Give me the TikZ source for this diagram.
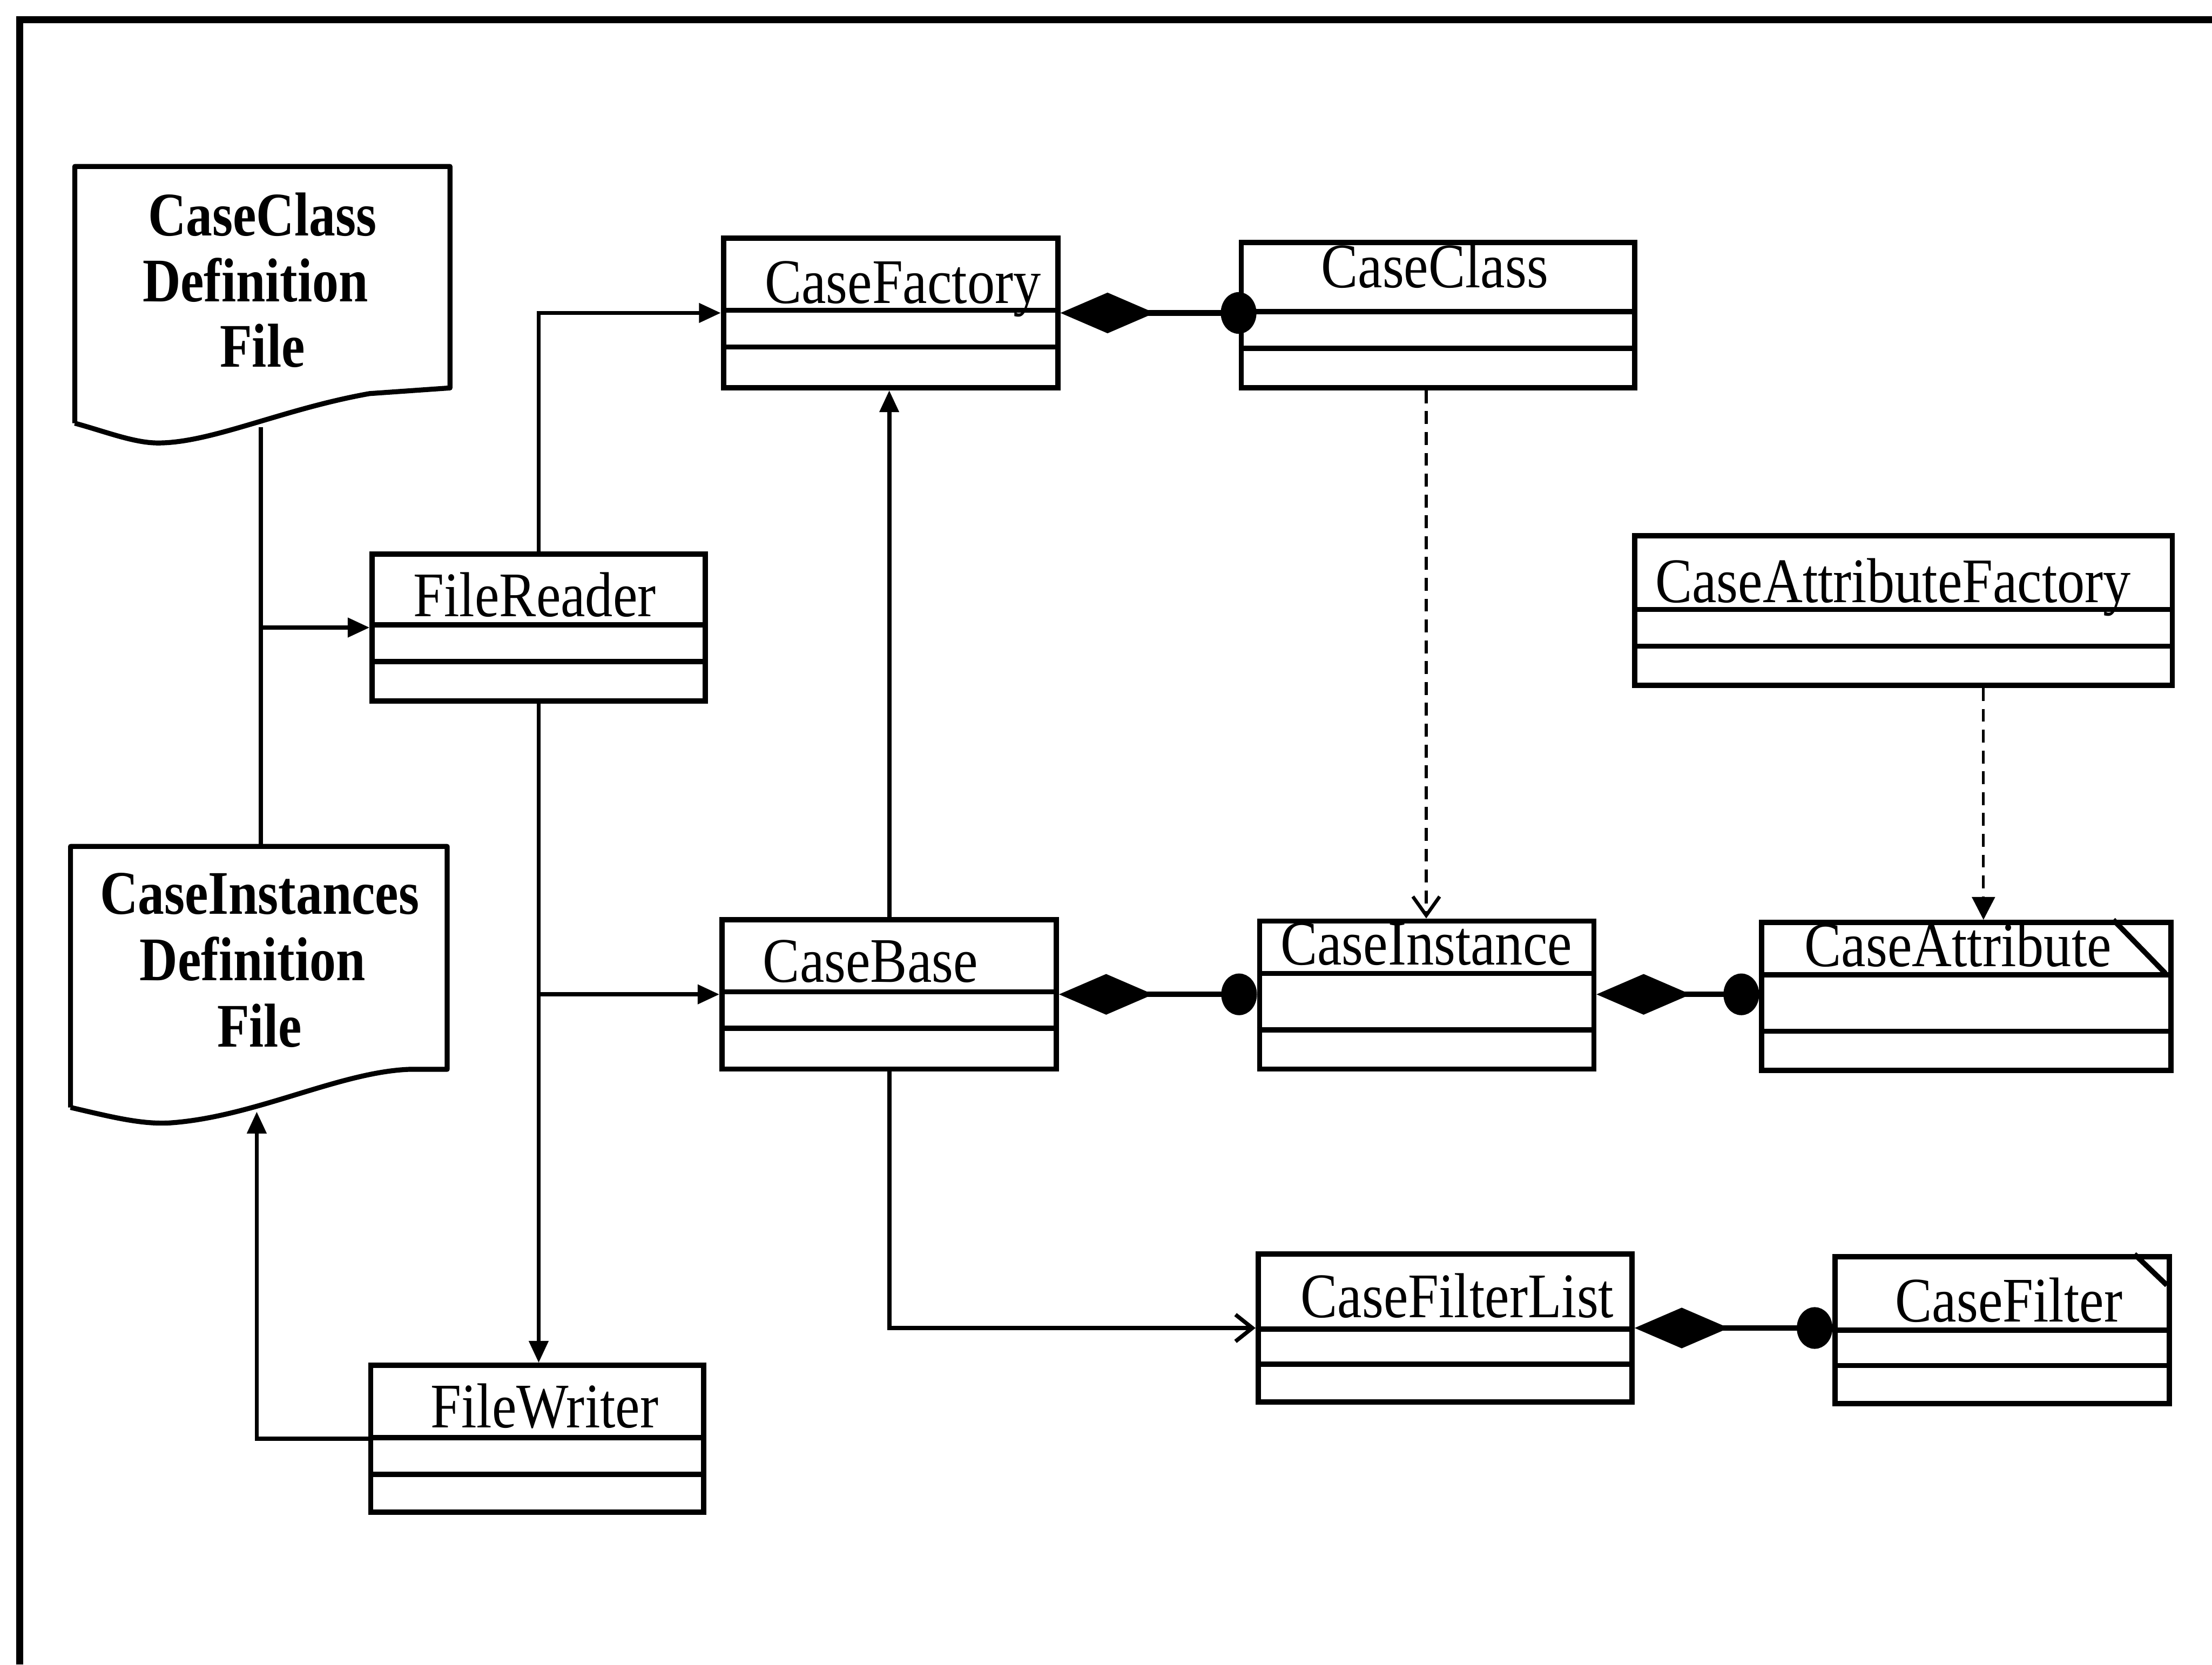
\documentclass[tikz,border=0pt]{standalone}
\usepackage{fontspec}
\setmainfont{Liberation Serif}
\usetikzlibrary{arrows.meta}
\newcommand{\narrowtext}[2][0.87]{\scalebox{#1}[1]{#2}}
% UML class: #1 label/name, #2 x1, #3 y1, #4 x2, #5 y2, #6 first divider, #7 second divider, #8 label x, #9 label baseline
\newcommand{\umlclass}[9]{%
  \node[umlbox, minimum width={(#4-#2)*0.01cm}, minimum height={(#5-#3)*0.01cm}] (#1) at (#2,#3) {};
  \draw[boxline] (#2,#6) -- (#4,#6) (#2,#7) -- (#4,#7);
  \node[clsname] (#1-label) at (#8,#9) {\narrowtext{#1}};
}
\begin{document}
\begin{tikzpicture}[x=0.01cm,y=-0.01cm,
  boxline/.style={line width=1.05pt},
  umlbox/.style={draw, line width=1.05pt, inner sep=0pt, anchor=north west, fill=white},
  clsname/.style={anchor=base, inner sep=0pt, font=\fontsize{12.8}{14}\selectfont},
  doctext/.style={anchor=base, inner sep=0pt, font=\fontsize{12.5}{13.2}\selectfont\bfseries},
  docline/.style={line width=1pt, line join=round},
  conn/.style={line width=0.85pt},
  flow/.style={conn, -{Triangle[length=4.4pt,width=3.8pt]}},
  openflow/.style={conn, -{Straight Barb[length=3.4pt,width=5.4pt,line width=0.8pt]}},
  depend/.style={line width=0.55pt, dash pattern=on 2.6pt off 1.6pt},
  compose/.style={line width=1.1pt, {Diamond[length=19pt,width=8.2pt]}-{Circle[length=7.2pt,width=8.4pt]}},
]
\useasboundingbox (0,0) rectangle (1568,1180);
\fill[white] (0,0) rectangle (1568,1180);

% outer frame
\draw[line width=1.4pt] (14,1180) -- (14,14) -- (1568,14);

% document: CaseClass Definition File
\draw[docline] (53,300) -- (53,118) -- (319,118) -- (319,275) -- (262,279)
  .. controls (200,290) and (150,314) .. (112,314)
  .. controls (95,314) and (75,306) .. (53,300);
\node[doctext] (doc1-a) at (186,167) {\narrowtext[0.85]{CaseClass}};
\node[doctext] (doc1-b) at (181,214) {\narrowtext[0.85]{Definition}};
\node[doctext] (doc1-c) at (186,260) {\narrowtext[0.85]{File}};
\coordinate (doc1-out) at (185,303);

% document: CaseInstances Definition File
\draw[docline] (50,785) -- (50,600) -- (317,600) -- (317,758) -- (290,758)
  .. controls (240,760) and (180,792) .. (120,796)
  .. controls (100,797) and (80,792) .. (50,785);
\node[doctext] (doc2-a) at (184,648) {\narrowtext[0.85]{CaseInstances}};
\node[doctext] (doc2-b) at (179,695) {\narrowtext[0.85]{Definition}};
\node[doctext] (doc2-c) at (184,742) {\narrowtext[0.85]{File}};
\coordinate (doc2-top) at (185,600);
\coordinate (doc2-in) at (182,788);

% classes
\umlclass{CaseFactory}{511}{167}{748}{273}{220}{246}{640}{215}
\umlclass{CaseClass}{878}{170}{1157}{273}{221}{247}{1017}{204}
\umlclass{FileReader}{262}{391}{498}{495}{443}{469}{379}{437}
\umlclass{FileWriter}{261}{966}{497}{1070}{1019}{1045}{386}{1012}
\umlclass{CaseBase}{510}{650}{747}{756}{703}{729}{617}{696}
\umlclass{CaseInstance}{891}{651}{1128}{756}{690}{730}{1011}{684}
\umlclass{CaseAttribute}{1247}{652}{1537}{757}{691}{731}{1388}{685}
\umlclass{CaseAttributeFactory}{1157}{378}{1538}{484}{432}{458}{1342}{427}
\umlclass{CaseFilterList}{890}{887}{1155}{992}{942}{967}{1033}{934}
\umlclass{CaseFilter}{1299}{889}{1536}{993}{943}{968}{1424}{937}

% folded corners
\draw[boxline] (1498,652) -- (1535,690);
\draw[boxline] (1513,889) -- (1536,911);

% file access
\draw[conn] (doc1-out) -- (doc2-top);
\draw[flow] (doc1-out |- FileReader.west) -- (FileReader.west);
\draw[flow] (FileReader.north) |- (CaseFactory.west);
\draw[flow] (FileReader.south) -- (FileReader.south |- FileWriter.north);
\draw[flow] (FileReader.south |- CaseBase.west) -- (CaseBase.west);
\draw[flow] (FileWriter.west) -| (doc2-in);

% CaseBase links
\draw[flow] (CaseBase.north) -- (CaseBase.north |- CaseFactory.south);
\draw[openflow] (CaseBase.south) |- (CaseFilterList.west);

% dependencies
\coordinate (dep1x) at (1011,0);
\coordinate (dep2x) at (1406,0);
\draw[depend, -{Straight Barb[length=3.8pt,width=5.4pt,line width=0.7pt]}]
  (CaseClass.south -| dep1x) -- (CaseInstance.north -| dep1x);
\draw[depend, -{Triangle[length=4.6pt,width=4.6pt]}]
  (CaseAttributeFactory.south -| dep2x) -- (CaseAttribute.north -| dep2x);

% compositions
\draw[compose, shorten >=-3.6pt] (CaseFactory.east) -- (CaseFactory.east -| CaseClass.west);
\draw[compose] (CaseBase.east) -- (CaseBase.east -| CaseInstance.west);
\draw[compose] (CaseInstance.east |- CaseBase.east) -- (CaseAttribute.west |- CaseBase.east);
\draw[compose] (CaseFilterList.east) -- (CaseFilterList.east -| CaseFilter.west);
\end{tikzpicture}
\end{document}
